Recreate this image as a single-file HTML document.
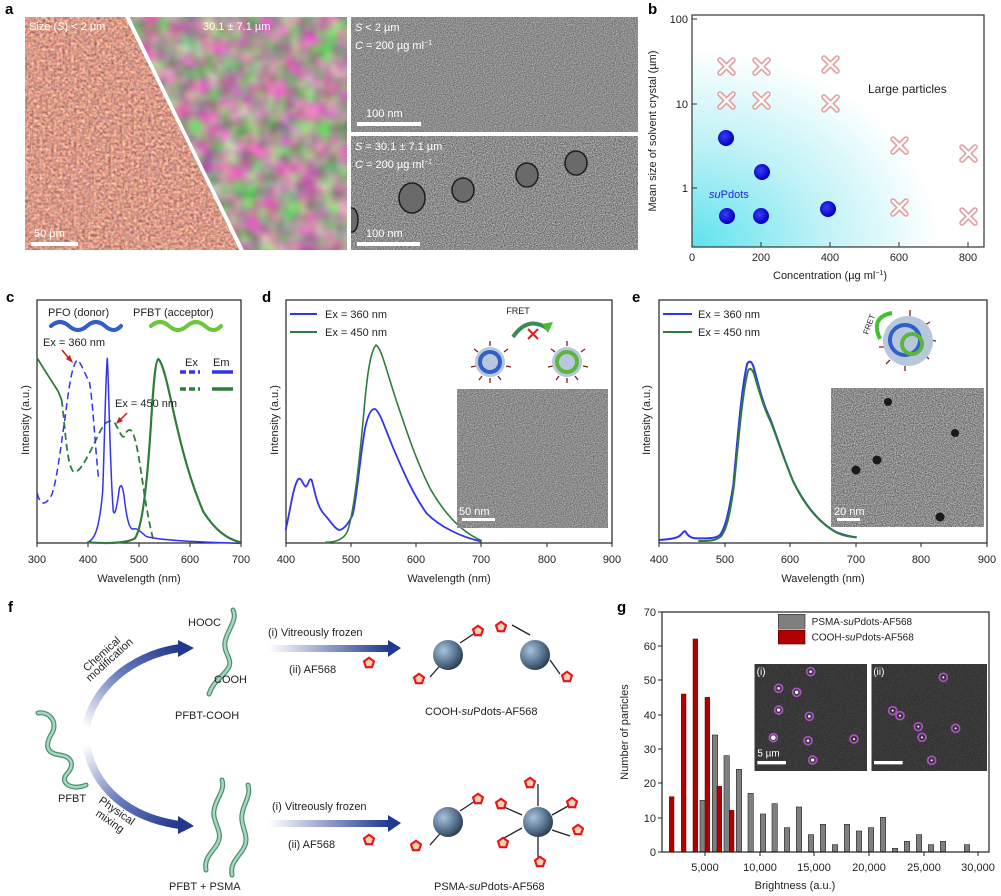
<!DOCTYPE html>
<html><head><meta charset="utf-8"><style>
html,body{margin:0;padding:0;background:#fff}
svg{display:block;font-family:"Liberation Sans",sans-serif}
</style></head><body>
<svg width="1001" height="896" viewBox="0 0 1001 896" xmlns="http://www.w3.org/2000/svg">
<defs>
<filter id="n1" x="0" y="0" width="100%" height="100%" color-interpolation-filters="sRGB"><feTurbulence type="fractalNoise" baseFrequency="0.35" numOctaves="2" seed="3"/><feColorMatrix values="0.6 0.3 0 0 0.4  0.3 0.5 0 0 0.2  0.2 0.3 0.3 0 0.13  0 0 0 0 1"/></filter>
<filter id="n2" x="0" y="0" width="100%" height="100%" color-interpolation-filters="sRGB"><feTurbulence type="fractalNoise" baseFrequency="0.05" numOctaves="2" seed="7"/><feColorMatrix values="0.9 -0.3 0.2 0 0.3  -0.1 0.9 -0.1 0 0.25  0.6 -0.2 0.4 0 0.18  0 0 0 0 1"/></filter>
<filter id="tem" x="0" y="0" width="100%" height="100%" color-interpolation-filters="sRGB"><feTurbulence type="fractalNoise" baseFrequency="0.9" numOctaves="1" seed="2"/><feColorMatrix values="0.6 0 0 0 0.25  0.6 0 0 0 0.25  0.6 0 0 0 0.25  0 0 0 0 1"/></filter>
<filter id="tem2" x="0" y="0" width="100%" height="100%" color-interpolation-filters="sRGB"><feTurbulence type="fractalNoise" baseFrequency="0.9" numOctaves="1" seed="5"/><feColorMatrix values="0.8 0 0 0 0.15  0.8 0 0 0 0.15  0.8 0 0 0 0.15  0 0 0 0 1"/></filter>
<filter id="fl" x="0" y="0" width="100%" height="100%" color-interpolation-filters="sRGB"><feTurbulence type="fractalNoise" baseFrequency="0.8" numOctaves="1" seed="9"/><feColorMatrix values="0.3 0 0 0 0.07  0.3 0 0 0 0.07  0.3 0 0 0 0.07  0 0 0 0 1"/></filter>
<radialGradient id="cy" cx="0" cy="1" r="1"><stop offset="0" stop-color="#5fe2ee"/><stop offset="0.45" stop-color="#bff2f6"/><stop offset="0.85" stop-color="#fff"/></radialGradient>
<radialGradient id="sph" cx="0.35" cy="0.35" r="0.7"><stop offset="0" stop-color="#a9c3dc"/><stop offset="0.6" stop-color="#5a7591"/><stop offset="1" stop-color="#2b3b4f"/></radialGradient>
<radialGradient id="bdot" cx="0.4" cy="0.4" r="0.6"><stop offset="0" stop-color="#3b3bff"/><stop offset="1" stop-color="#0000b8"/></radialGradient>
<linearGradient id="arr1" x1="0" y1="1" x2="1" y2="0"><stop offset="0" stop-color="#fff"/><stop offset="0.5" stop-color="#6c7fbf"/><stop offset="1" stop-color="#23378c"/></linearGradient>
<linearGradient id="arr2" x1="0" y1="0" x2="1" y2="1"><stop offset="0" stop-color="#fff"/><stop offset="0.5" stop-color="#6c7fbf"/><stop offset="1" stop-color="#23378c"/></linearGradient>
<linearGradient id="harr" x1="0" y1="0" x2="1" y2="0"><stop offset="0" stop-color="#fff"/><stop offset="1" stop-color="#1f3a8f"/></linearGradient>
<symbol id="pent" viewBox="-6 -6 12 12"><polygon points="0,-4.5 4.3,-1.4 2.6,3.6 -2.6,3.6 -4.3,-1.4" fill="#f3d2b0" stroke="#e8131b" stroke-width="1.8"/></symbol>
<clipPath id="cl"><polygon points="25,17 125,17 240,250 25,250"/></clipPath>
<clipPath id="cr"><polygon points="129,17 347,17 347,250 244,250"/></clipPath>
<clipPath id="ct"><rect x="351" y="136" width="287" height="114"/></clipPath>
</defs>

<g font-weight="bold" font-size="15" fill="#000">
<text x="5" y="14">a</text><text x="648" y="14">b</text>
<text x="6" y="302">c</text><text x="262" y="302">d</text><text x="632" y="302">e</text>
<text x="8" y="612">f</text><text x="617" y="612">g</text>
</g>

<!-- Panel a -->
<rect x="25" y="17" width="322" height="233" filter="url(#n1)" clip-path="url(#cl)"/>
<rect x="25" y="17" width="322" height="233" filter="url(#n2)" clip-path="url(#cr)"/>
<rect x="25" y="17" width="322" height="233" fill="#a090a8" opacity="0.2" clip-path="url(#cr)"/>
<line x1="127" y1="15" x2="242" y2="252" stroke="#fff" stroke-width="3"/>
<rect x="351" y="17" width="287" height="115" filter="url(#tem)"/>
<rect x="351" y="136" width="287" height="114" filter="url(#tem2)"/>
<g clip-path="url(#ct)" fill="#6a6a6a" stroke="#1e1e1e" stroke-width="1.5">
<ellipse cx="412" cy="198" rx="13" ry="15"/><ellipse cx="463" cy="190" rx="11" ry="12"/><ellipse cx="527" cy="175" rx="11" ry="12"/><ellipse cx="576" cy="163" rx="11" ry="12"/><ellipse cx="352" cy="220" rx="6" ry="12"/>
</g>
<g fill="#fff" font-size="11">
<text x="29" y="30">Size (<tspan font-style="italic">S</tspan>) &lt; 2 µm</text>
<text x="203" y="30">30.1 ± 7.1 µm</text>
<text x="355" y="31"><tspan font-style="italic">S</tspan> &lt; 2 µm</text>
<text x="355" y="49"><tspan font-style="italic">C</tspan> = 200 µg ml<tspan font-size="7" dy="-4">−1</tspan></text>
<text x="355" y="150"><tspan font-style="italic">S</tspan> = 30.1 ± 7.1 µm</text>
<text x="355" y="168"><tspan font-style="italic">C</tspan> = 200 µg ml<tspan font-size="7" dy="-4">−1</tspan></text>
<text x="366" y="117">100 nm</text><text x="366" y="237">100 nm</text>
<text x="34" y="237">50 µm</text>
</g>
<rect x="31" y="242" width="47" height="4" fill="#fff"/>
<rect x="357" y="122" width="64" height="4" fill="#fff"/>
<rect x="357" y="242" width="63" height="4" fill="#fff"/>

<!-- Panel b -->
<rect x="692" y="15" width="292" height="232" fill="url(#cy)"/>
<rect x="692" y="15" width="292" height="232" fill="none" stroke="#333" stroke-width="1.2"/>
<g stroke="#333" stroke-width="1">
<line x1="692" y1="19" x2="697" y2="19"/><line x1="692" y1="104" x2="697" y2="104"/><line x1="692" y1="188" x2="697" y2="188"/>
<line x1="761" y1="247" x2="761" y2="242"/><line x1="830" y1="247" x2="830" y2="242"/><line x1="899" y1="247" x2="899" y2="242"/><line x1="968" y1="247" x2="968" y2="242"/>
</g>
<g font-size="11" fill="#222" text-anchor="end"><text x="688" y="23">100</text><text x="688" y="108">10</text><text x="688" y="192">1</text></g>
<g font-size="11" fill="#222" text-anchor="middle"><text x="692" y="261">0</text><text x="761" y="261">200</text><text x="830" y="261">400</text><text x="899" y="261">600</text><text x="968" y="261">800</text>
<text x="830" y="279">Concentration (µg ml<tspan font-size="7" dy="-4">−1</tspan><tspan dy="4">)</tspan></text></g>
<text transform="translate(656,131) rotate(-90)" font-size="11" text-anchor="middle" fill="#222">Mean size of solvent crystal (µm)</text>
<g stroke-linecap="round">
<g stroke="#e29b9b" stroke-width="5.5">
<path d="M720,60l13,13m0,-13l-13,13M755,60l13,13m0,-13l-13,13M824,58l13,13m0,-13l-13,13M720,94l13,13m0,-13l-13,13M755,94l13,13m0,-13l-13,13M824,97l13,13m0,-13l-13,13M893,139l13,13m0,-13l-13,13M962,147l13,13m0,-13l-13,13M893,201l13,13m0,-13l-13,13M962,210l13,13m0,-13l-13,13"/></g>
<g stroke="#fff" stroke-width="2.5">
<path d="M720,60l13,13m0,-13l-13,13M755,60l13,13m0,-13l-13,13M824,58l13,13m0,-13l-13,13M720,94l13,13m0,-13l-13,13M755,94l13,13m0,-13l-13,13M824,97l13,13m0,-13l-13,13M893,139l13,13m0,-13l-13,13M962,147l13,13m0,-13l-13,13M893,201l13,13m0,-13l-13,13M962,210l13,13m0,-13l-13,13"/></g>
</g>
<g fill="url(#bdot)"><circle cx="726" cy="138" r="8"/><circle cx="762" cy="172" r="8"/><circle cx="727" cy="216" r="8"/><circle cx="761" cy="216" r="8"/><circle cx="828" cy="209" r="8"/></g>
<text x="868" y="93" font-size="12" fill="#222">Large particles</text>
<text x="709" y="198" font-size="11" fill="#2222ee"><tspan font-style="italic">su</tspan>Pdots</text>

<!-- axes c,d,e -->
<g fill="none" stroke="#222" stroke-width="1.2">
<rect x="37" y="300" width="204" height="243"/>
<rect x="286" y="300" width="326" height="243"/>
<rect x="659" y="300" width="328" height="243"/>
</g>
<g stroke="#222" stroke-width="1">
<path d="M37,543v4M88,543v4M139,543v4M190,543v4M241,543v4M286,543v4M351,543v4M416,543v4M481,543v4M547,543v4M612,543v4M659,543v4M725,543v4M790,543v4M856,543v4M921,543v4M987,543v4"/>
</g>
<g font-size="11" fill="#222" text-anchor="middle">
<text x="37" y="563">300</text><text x="88" y="563">400</text><text x="139" y="563">500</text><text x="190" y="563">600</text><text x="241" y="563">700</text>
<text x="286" y="563">400</text><text x="351" y="563">500</text><text x="416" y="563">600</text><text x="481" y="563">700</text><text x="547" y="563">800</text><text x="612" y="563">900</text>
<text x="659" y="563">400</text><text x="725" y="563">500</text><text x="790" y="563">600</text><text x="856" y="563">700</text><text x="921" y="563">800</text><text x="987" y="563">900</text>
<text x="139" y="582">Wavelength (nm)</text><text x="449" y="582">Wavelength (nm)</text><text x="823" y="582">Wavelength (nm)</text>
</g>
<g font-size="11" fill="#222" text-anchor="middle">
<text transform="translate(29,420) rotate(-90)">Intensity (a.u.)</text>
<text transform="translate(278,420) rotate(-90)">Intensity (a.u.)</text>
<text transform="translate(650,420) rotate(-90)">Intensity (a.u.)</text>
</g>

<g transform="translate(0,285) scale(0.33333)" fill="none" stroke-linejoin="round">
<path vector-effect="non-scaling-stroke" stroke="#2e7d3a" stroke-width="1.8" d="M112,220 C130,250 150,280 175,320 L185,345"/>
<path vector-effect="non-scaling-stroke" stroke="#2e7d3a" stroke-width="1.8" stroke-dasharray="7,4" d="M185,345 C195,420 200,540 220,560 C240,570 270,500 300,440 C315,410 330,400 345,415 C355,430 365,460 372,455 C378,440 385,430 395,438 C410,460 420,540 435,640 C445,700 455,750 462,770"/>
<path vector-effect="non-scaling-stroke" stroke="#3333ee" stroke-width="1.5" stroke-dasharray="7,4" d="M112,625 C120,660 135,665 155,630 C170,590 180,500 195,400 C205,320 215,240 232,225 C245,235 255,270 268,290 C278,340 285,480 296,585"/>
<path vector-effect="non-scaling-stroke" stroke="#3333ee" stroke-width="1.5" d="M262,772 C285,765 298,730 308,620 C313,500 317,260 322,220 C326,280 330,560 340,680 C345,695 352,660 358,610 C363,595 368,600 373,640 C380,700 388,735 400,732 C412,728 420,740 440,755 C480,765 560,770 720,775"/>
<path vector-effect="non-scaling-stroke" stroke="#2e7d3a" stroke-width="2.2" d="M262,772 C320,776 380,775 405,760 C425,730 440,620 452,430 C460,300 466,225 475,222 C490,235 505,310 525,400 C550,510 575,600 610,680 C645,735 680,762 722,772"/>
</g>
<text x="48" y="316" font-size="11" fill="#222">PFO (donor)</text>
<text x="133" y="316" font-size="11" fill="#222">PFBT (acceptor)</text>
<path d="M51,326 q9,-8 18,0 t18,0 t18,0 t16,0" fill="none" stroke="#2f5fc7" stroke-width="4" stroke-linecap="round"/>
<path d="M151,326 q9,-8 18,0 t18,0 t18,0 t16,0" fill="none" stroke="#6cc63a" stroke-width="4" stroke-linecap="round"/>
<text x="43" y="346" font-size="11" fill="#222">Ex = 360 nm</text>
<text x="115" y="407" font-size="11" fill="#222">Ex = 450 nm</text>
<path d="M62,350 L71,361" stroke="#c91d1d" stroke-width="1.5"/><polygon points="73,363 66,359 70,355" fill="#c91d1d"/>
<path d="M127,413 L118,422" stroke="#c91d1d" stroke-width="1.5"/><polygon points="116,424 119,417 123,421" fill="#c91d1d"/>
<text x="185" y="366" font-size="11" fill="#222">Ex</text><text x="213" y="366" font-size="11" fill="#222">Em</text>
<path d="M180,372h20" stroke="#3333ee" stroke-width="3.5" stroke-dasharray="6,3"/>
<path d="M212,372h21" stroke="#3333ee" stroke-width="3.5"/>
<path d="M180,389h20" stroke="#2e7d3a" stroke-width="3.5" stroke-dasharray="6,3"/>
<path d="M212,389h21" stroke="#2e7d3a" stroke-width="3.5"/>

<!-- panel d -->
<g transform="translate(260,285) scale(0.33333)" fill="none" stroke-linejoin="round">
<path vector-effect="non-scaling-stroke" stroke="#3333ee" stroke-width="1.8" d="M77,735 C90,680 100,600 115,582 C125,575 130,605 138,605 C145,600 148,575 155,585 C165,620 170,660 190,685 C210,705 225,735 240,735 C255,730 265,715 278,690 C290,640 300,520 315,430 C325,385 335,370 345,372 C360,380 375,430 400,490 C430,560 460,630 500,685 C540,725 600,755 665,770"/>
<path vector-effect="non-scaling-stroke" stroke="#2e7d3a" stroke-width="1.6" d="M195,772 C225,772 250,765 262,740 C280,690 295,560 310,400 C320,280 330,200 348,180 C365,190 380,260 410,350 C440,440 470,530 510,610 C550,680 600,740 665,767"/>
</g>
<path d="M290,314h27" stroke="#3333ee" stroke-width="2"/><path d="M290,332h27" stroke="#2e7d3a" stroke-width="2"/>
<text x="325" y="318" font-size="11" fill="#222">Ex = 360 nm</text><text x="325" y="336" font-size="11" fill="#222">Ex = 450 nm</text>
<text x="518" y="314" font-size="9" fill="#222" text-anchor="middle">FRET</text>
<path d="M513,337 q15,-22 35,-8" fill="none" stroke="#3a8a55" stroke-width="4"/><polygon points="548,333 553,322 542,324" fill="#43c030"/>
<path d="M528,329l10,10m0,-10l-10,10" stroke="#dd1d1d" stroke-width="2"/>
<g stroke="#7a2020" stroke-width="1.3">
<path d="M490,346v-5M478,352l-4,-3M504,352l4,-3M476,366l-5,1M506,366l5,1M482,376l-3,4M498,376l3,4M490,378v5"/>
<path d="M567,346v-5M555,352l-4,-3M581,352l4,-3M553,366l-5,1M583,366l5,1M559,376l-3,4M575,376l3,4M567,378v5"/>
</g>
<circle cx="490" cy="362" r="15" fill="#b7c8dc"/><circle cx="490" cy="362" r="10" fill="none" stroke="#2f5fc7" stroke-width="4"/>
<circle cx="567" cy="362" r="15" fill="#b7c8dc"/><circle cx="567" cy="362" r="10" fill="none" stroke="#5db53c" stroke-width="4"/>
<rect x="457" y="389" width="151" height="139" filter="url(#tem)"/>
<text x="459" y="515" font-size="11" fill="#fff">50 nm</text><rect x="462" y="518" width="33" height="3" fill="#fff"/>

<!-- panel e -->
<g transform="translate(630,285) scale(0.33333)" fill="none" stroke-linejoin="round">
<path vector-effect="non-scaling-stroke" stroke="#3333ee" stroke-width="2" d="M88,765 C120,762 140,760 150,752 C158,745 162,735 167,740 C172,750 180,760 200,760 C230,760 255,762 270,750 C285,730 295,690 310,600 C322,470 335,300 352,235 C360,225 366,230 372,250 C385,300 400,360 420,400 C440,450 460,520 490,590 C520,650 560,710 620,742 C640,750 660,755 680,757"/>
<path vector-effect="non-scaling-stroke" stroke="#2e7d3a" stroke-width="2" d="M205,768 C240,768 260,767 275,752 C290,730 300,690 312,600 C325,470 338,310 355,255 C361,248 367,252 373,270 C388,320 402,370 422,410 C442,460 462,525 492,595 C522,655 562,712 622,744 C640,752 660,756 680,757"/>
</g>
<path d="M663,314h29" stroke="#3333ee" stroke-width="2"/><path d="M663,332h29" stroke="#2e7d3a" stroke-width="2"/>
<text x="698" y="318" font-size="11" fill="#222">Ex = 360 nm</text><text x="698" y="336" font-size="11" fill="#222">Ex = 450 nm</text>
<text transform="translate(868,335) rotate(-70)" font-size="8" fill="#222">FRET</text>
<path d="M880,339 q-10,-22 12,-26" fill="none" stroke="#43c030" stroke-width="4"/>
<g stroke="#7a2020" stroke-width="1.3"><path d="M910,316v-6M925,325l5,-3M930,340l6,1M925,355l4,4M905,366v5M890,360l-4,4M885,347l-6,0"/></g>
<circle cx="908" cy="341" r="25" fill="#b7c8dc"/>
<circle cx="905" cy="340" r="15" fill="none" stroke="#2f5fc7" stroke-width="4"/><circle cx="912" cy="344" r="10" fill="none" stroke="#5db53c" stroke-width="4"/>
<rect x="831" y="388" width="153" height="139" filter="url(#tem2)"/>
<g fill="#1a1a1a"><circle cx="888" cy="402" r="4"/><circle cx="955" cy="433" r="4"/><circle cx="877" cy="460" r="4.5"/><circle cx="856" cy="470" r="4.5"/><circle cx="940" cy="517" r="4.5"/></g>
<text x="834" y="515" font-size="11" fill="#fff">20 nm</text><rect x="837" y="518" width="23" height="3" fill="#fff"/>

<!-- panel f -->
<g fill="none" stroke-linecap="round">
<path d="M38,713 c12,-2 20,10 14,20 c-6,10 -8,20 8,22 c14,2 14,12 6,20 c-6,8 6,16 20,10" stroke="#4d8f72" stroke-width="5"/>
<path d="M38,713 c12,-2 20,10 14,20 c-6,10 -8,20 8,22 c14,2 14,12 6,20 c-6,8 6,16 20,10" stroke="#a8d8bf" stroke-width="2.5"/>
<path d="M233,610 c5,10 -6,20 -8,32 c-2,12 10,18 2,28 c-6,8 -14,12 -18,24" stroke="#4d8f72" stroke-width="5"/>
<path d="M233,610 c5,10 -6,20 -8,32 c-2,12 10,18 2,28 c-6,8 -14,12 -18,24" stroke="#a8d8bf" stroke-width="2.5"/>
<path d="M222,780 c4,12 -10,22 -8,36 c2,12 10,18 2,30 c-6,8 -12,14 -10,24" stroke="#4d8f72" stroke-width="5"/>
<path d="M248,785 c4,12 -8,22 -6,36 c2,12 8,18 0,30 c-6,8 -12,14 -10,24" stroke="#4d8f72" stroke-width="5"/>
<path d="M222,780 c4,12 -10,22 -8,36 c2,12 10,18 2,30 c-6,8 -12,14 -10,24" stroke="#a8d8bf" stroke-width="2.5"/>
<path d="M248,785 c4,12 -8,22 -6,36 c2,12 8,18 0,30 c-6,8 -12,14 -10,24" stroke="#a8d8bf" stroke-width="2.5"/>
</g>
<path d="M86,728 C92,690 130,655 180,648" fill="none" stroke="url(#arr1)" stroke-width="8"/>
<polygon points="178,640 194,648 178,657" fill="#23378c"/>
<path d="M86,745 C95,790 130,818 180,825" fill="none" stroke="url(#arr2)" stroke-width="8"/>
<polygon points="178,816 194,826 178,834" fill="#23378c"/>
<rect x="269" y="645" width="120" height="7" fill="url(#harr)"/><polygon points="388,640 401,648 388,657" fill="#1f3a8f"/>
<rect x="269" y="820" width="120" height="7" fill="url(#harr)"/><polygon points="388,815 401,823 388,832" fill="#1f3a8f"/>
<g font-size="11" fill="#222">
<text transform="translate(87,672) rotate(-42)">Chemical</text>
<text transform="translate(90,682) rotate(-42)">modification</text>
<text transform="translate(98,802) rotate(35)">Physical</text>
<text transform="translate(95,815) rotate(35)">mixing</text>
<text x="188" y="626">HOOC</text><text x="214" y="683">COOH</text>
<text x="175" y="719">PFBT-COOH</text>
<text x="58" y="802">PFBT</text>
<text x="169" y="890">PFBT + PSMA</text>
<text x="268" y="636">(i) Vitreously frozen</text>
<text x="289" y="673">(ii) AF568</text>
<text x="272" y="810">(i) Vitreously frozen</text>
<text x="288" y="848">(ii) AF568</text>
<text x="425" y="715"><tspan>COOH-</tspan><tspan font-style="italic">su</tspan>Pdots-AF568</text>
<text x="434" y="890"><tspan>PSMA-</tspan><tspan font-style="italic">su</tspan>Pdots-AF568</text>
</g>
<use href="#pent" x="362" y="656" width="14" height="14"/>
<use href="#pent" x="362" y="833" width="14" height="14"/>
<g stroke="#222" stroke-width="1.3">
<path d="M430,677l15,-17M460,643l15,-10M530,635l-18,-10M550,660l10,14M430,845l15,-17M460,811l15,-10M538,806v-22M552,815l18,-10M552,830l18,6M538,835v22M522,828l-18,10M522,815l-18,-8"/>
</g>
<circle cx="448" cy="655" r="15" fill="url(#sph)"/><circle cx="535" cy="655" r="15" fill="url(#sph)"/>
<circle cx="448" cy="822" r="15" fill="url(#sph)"/><circle cx="538" cy="822" r="15" fill="url(#sph)"/>
<g>
<use href="#pent" x="412" y="672" width="14" height="14"/><use href="#pent" x="471" y="624" width="14" height="14"/>
<use href="#pent" x="494" y="620" width="14" height="14"/><use href="#pent" x="560" y="670" width="14" height="14"/>
<use href="#pent" x="409" y="839" width="14" height="14"/><use href="#pent" x="471" y="792" width="14" height="14"/>
<use href="#pent" x="523" y="776" width="14" height="14"/><use href="#pent" x="565" y="796" width="14" height="14"/>
<use href="#pent" x="571" y="823" width="14" height="14"/><use href="#pent" x="533" y="855" width="14" height="14"/>
<use href="#pent" x="496" y="836" width="14" height="14"/><use href="#pent" x="494" y="797" width="14" height="14"/>
</g>

<!-- panel g -->
<g transform="translate(600,600) scale(0.33333)">
<rect x="465" y="193" width="335" height="319" filter="url(#fl)"/>
<rect x="815" y="193" width="345" height="319" filter="url(#fl)"/>
<g fill="none" stroke="#b050c8" stroke-width="5">
<circle cx="632" cy="215" r="12"/><circle cx="536" cy="265" r="12"/><circle cx="590" cy="277" r="12"/><circle cx="536" cy="330" r="12"/><circle cx="628" cy="349" r="12"/><circle cx="520" cy="413" r="12"/><circle cx="624" cy="422" r="12"/><circle cx="762" cy="417" r="12"/><circle cx="638" cy="480" r="12"/>
<circle cx="1030" cy="232" r="12"/><circle cx="878" cy="332" r="12"/><circle cx="900" cy="347" r="12"/><circle cx="955" cy="380" r="12"/><circle cx="1067" cy="385" r="12"/><circle cx="966" cy="412" r="12"/><circle cx="995" cy="481" r="12"/>
</g>
<g fill="#fff"><circle cx="632" cy="215" r="4"/><circle cx="536" cy="265" r="4"/><circle cx="590" cy="277" r="5"/><circle cx="536" cy="330" r="5"/><circle cx="628" cy="349" r="4"/><circle cx="520" cy="413" r="7"/><circle cx="624" cy="422" r="4"/><circle cx="762" cy="417" r="3"/><circle cx="638" cy="480" r="5"/><circle cx="1030" cy="232" r="3"/><circle cx="878" cy="332" r="3"/><circle cx="900" cy="347" r="3"/><circle cx="955" cy="380" r="3"/><circle cx="1067" cy="385" r="3"/><circle cx="966" cy="412" r="3"/><circle cx="995" cy="481" r="3"/></g>
<text x="470" y="225" font-size="30" fill="#fff">(i)</text><text x="820" y="225" font-size="30" fill="#fff">(ii)</text>
<text x="472" y="470" font-size="30" fill="#fff">5 µm</text>
<rect x="472" y="483" width="86" height="10" fill="#fff"/><rect x="822" y="483" width="86" height="10" fill="#fff"/>
<g fill="#7f7f7f" stroke="#333" stroke-width="2">
<rect x="300" y="601" width="16" height="154"/><rect x="337" y="405" width="16" height="350"/><rect x="372" y="467" width="16" height="288"/><rect x="409" y="508" width="16" height="247"/><rect x="444" y="580" width="16" height="175"/><rect x="481" y="642" width="16" height="113"/><rect x="516" y="611" width="16" height="144"/><rect x="553" y="683" width="16" height="72"/><rect x="589" y="621" width="16" height="134"/><rect x="625" y="704" width="16" height="51"/><rect x="661" y="673" width="16" height="82"/><rect x="697" y="734" width="16" height="21"/><rect x="733" y="673" width="16" height="82"/><rect x="769" y="693" width="16" height="62"/><rect x="805" y="683" width="16" height="72"/><rect x="841" y="652" width="16" height="103"/><rect x="877" y="745" width="16" height="10"/><rect x="913" y="724" width="16" height="31"/><rect x="949" y="704" width="16" height="51"/><rect x="985" y="734" width="16" height="21"/><rect x="1021" y="724" width="16" height="31"/><rect x="1093" y="734" width="16" height="21"/>
</g>
<g fill="#b00000" stroke="#5a0000" stroke-width="1.5">
<rect x="208" y="590" width="14" height="165"/><rect x="244" y="282" width="14" height="473"/><rect x="279" y="117" width="14" height="638"/><rect x="315" y="292" width="14" height="463"/><rect x="351" y="559" width="14" height="196"/><rect x="388" y="631" width="14" height="124"/>
</g>
<rect x="535" y="43" width="80" height="42" fill="#7f7f7f" stroke="#333" stroke-width="2"/>
<rect x="535" y="90" width="80" height="42" fill="#b00000" stroke="#5a0000" stroke-width="2"/>
<text x="635" y="75" font-size="30" fill="#222">PSMA-<tspan font-style="italic">su</tspan>Pdots-AF568</text>
<text x="635" y="122" font-size="30" fill="#222">COOH-<tspan font-style="italic">su</tspan>Pdots-AF568</text>
</g>
<rect x="662" y="612" width="327" height="240" fill="none" stroke="#222" stroke-width="1.2"/>
<g stroke="#222" stroke-width="1"><path d="M705,852v4M760,852v4M814,852v4M869,852v4M924,852v4M978,852v4M662,852h-4M662,818h-4M662,783h-4M662,749h-4M662,715h-4M662,680h-4M662,646h-4M662,612h-4"/></g>
<g font-size="11" fill="#222" text-anchor="end"><text x="656" y="856">0</text><text x="656" y="822">10</text><text x="656" y="787">20</text><text x="656" y="753">30</text><text x="656" y="719">40</text><text x="656" y="684">50</text><text x="656" y="650">60</text><text x="656" y="616">70</text></g>
<g font-size="11" fill="#222" text-anchor="middle"><text x="705" y="871">5,000</text><text x="760" y="871">10,000</text><text x="814" y="871">15,000</text><text x="869" y="871">20,000</text><text x="924" y="871">25,000</text><text x="978" y="871">30,000</text>
<text x="795" y="889">Brightness (a.u.)</text></g>
<text transform="translate(628,732) rotate(-90)" font-size="11" text-anchor="middle" fill="#222">Number of particles</text>
</svg>
</body></html>
